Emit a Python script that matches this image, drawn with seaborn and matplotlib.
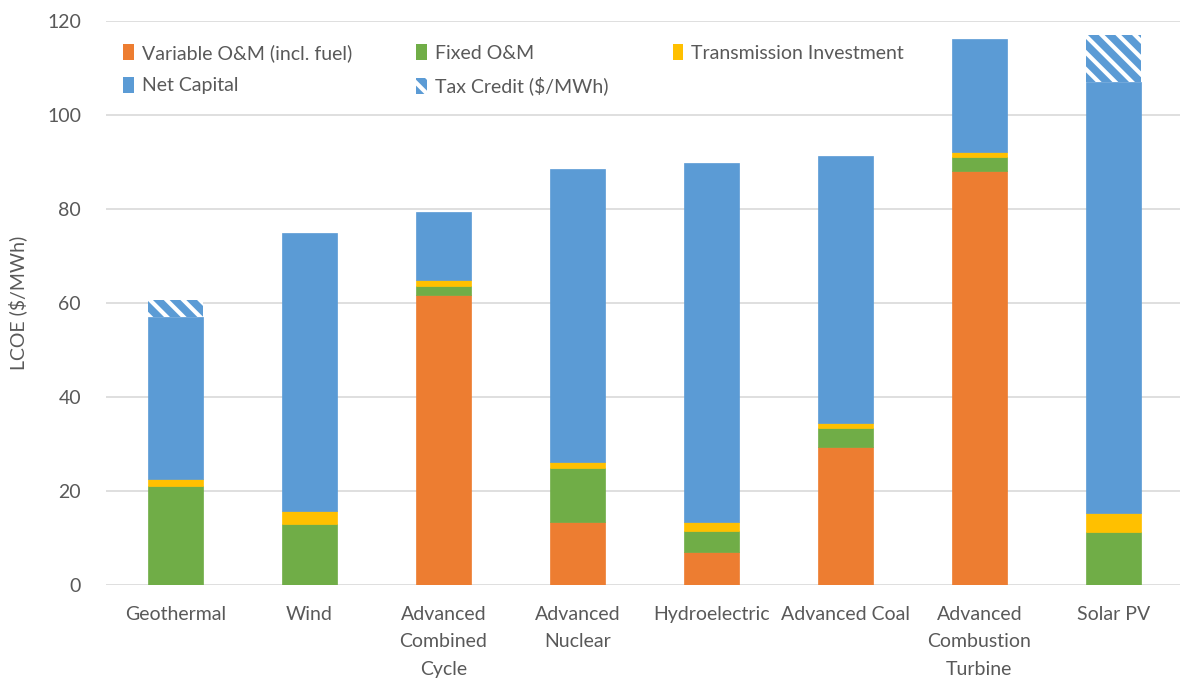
import matplotlib
matplotlib.use("Agg")
import matplotlib.pyplot as plt
import seaborn as sns
import pandas as pd
import numpy as np
from matplotlib.patches import Patch

# Levelized cost of electricity by plant type, components in $/MWh
technologies = [
    "Geothermal", "Wind", "Advanced\nCombined\nCycle", "Advanced\nNuclear",
    "Hydroelectric", "Advanced Coal", "Advanced\nCombustion\nTurbine", "Solar PV",
]
variable_om = [0.0, 0.0, 61.8, 13.4, 7.0, 29.3, 88.1, 0.0]
fixed_om = [21.0, 12.9, 1.8, 11.5, 4.4, 4.0, 2.9, 11.3]
transmission = [1.6, 2.9, 1.3, 1.3, 2.0, 1.2, 1.2, 4.1]
net_capital = [34.4, 59.2, 14.5, 62.4, 76.4, 56.8, 24.0, 91.7]
tax_credit = [3.7, 0.0, 0.0, 0.0, 0.0, 0.0, 0.0, 9.9]

series_names = [
    "Variable O&M (incl. fuel)", "Fixed O&M", "Transmission Investment",
    "Net Capital", "Tax Credit ($/MWh)",
]
series_values = [variable_om, fixed_om, transmission, net_capital, tax_credit]
y_ticks = [0, 20, 40, 60, 80, 100, 120]

colors = {
    "Variable O&M (incl. fuel)": "#ED7D31",
    "Fixed O&M": "#70AD47",
    "Transmission Investment": "#FFC000",
    "Net Capital": "#5B9BD5",
    "Tax Credit ($/MWh)": "#5B9BD5",
}
TAX_HATCH = "\\\\"

sns.set_theme(style="white")
plt.rcParams["font.family"] = ["Lato", "DejaVu Sans"]
plt.rcParams["hatch.linewidth"] = 3.0
text_color = "#595959"
fs = 14

fig = plt.figure(figsize=(11.91, 6.79), dpi=100)
ax = fig.add_axes([0.089, 0.1385, 0.902, 0.8305])

df = pd.DataFrame({"tech": technologies})
bottom = np.zeros(len(technologies))
for name, vals in zip(series_names, series_values):
    df[name] = vals
    is_tax = name.startswith("Tax")
    sns.barplot(
        data=df, x="tech", y=name, order=technologies, ax=ax,
        color=colors[name], saturation=1, width=0.41,
        bottom=bottom.copy(),
        edgecolor="white" if is_tax else colors[name],
        linewidth=0 if is_tax else 0.5,
        hatch=TAX_HATCH if is_tax else None,
        zorder=3,
    )
    bottom += np.array(vals)

ax.set_ylim(0, 120)
ax.set_xlim(-0.52, 7.5)
ax.set_yticks(y_ticks)
ax.set_yticklabels([str(t) for t in y_ticks], fontsize=fs, color=text_color)
ax.set_xticks(range(len(technologies)))
ax.set_xticklabels(technologies, fontsize=fs, color=text_color, linespacing=1.75, va="top")
ax.tick_params(axis="x", length=0, pad=15)
ax.tick_params(axis="y", length=0, pad=18)
ax.set_xlabel("")
ax.set_ylabel("LCOE ($/MWh)", fontsize=fs, color=text_color, labelpad=14)
ax.grid(axis="y", color="#D9D9D9", linewidth=1.2, zorder=0)
ax.set_axisbelow(True)
for s in ax.spines.values():
    s.set_visible(False)

# Legend laid out row by row across three columns
handles = {
    n: Patch(facecolor=colors[n], edgecolor="white" if n.startswith("Tax") else colors[n],
             hatch=TAX_HATCH if n.startswith("Tax") else None, linewidth=0)
    for n in series_names
}
order = ["Variable O&M (incl. fuel)", "Net Capital", "Fixed O&M",
         "Tax Credit ($/MWh)", "Transmission Investment"]
leg = ax.legend(
    [handles[n] for n in order], order, ncol=3, loc="upper left",
    bbox_to_anchor=(0.0, 0.99), frameon=False, fontsize=fs,
    handlelength=0.55, handleheight=0.9, handletextpad=0.4,
    columnspacing=3.3, labelspacing=0.75, labelcolor=text_color,
)

fig.savefig("out.png", dpi=100)
